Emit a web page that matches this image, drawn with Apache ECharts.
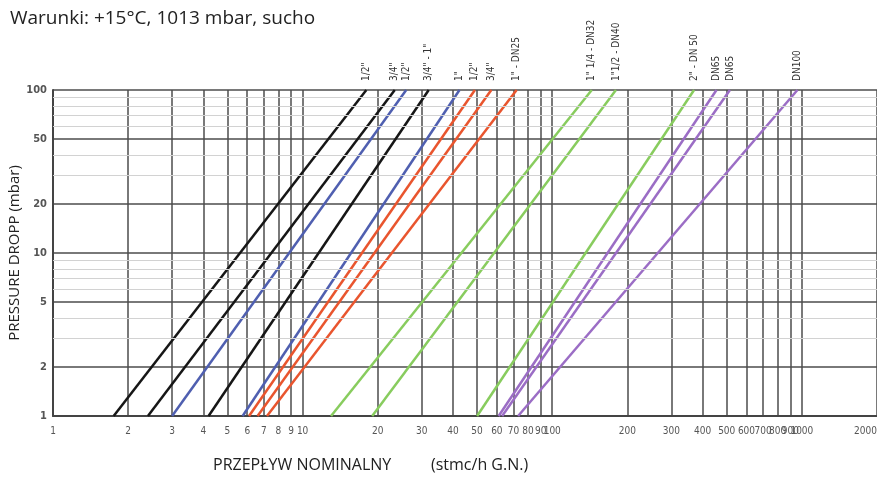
<!DOCTYPE html>
<html>
<head>
<meta charset="utf-8">
<script src="https://cdn.jsdelivr.net/npm/echarts@6/dist/echarts.min.js"></script>
<style>
html,body{margin:0;padding:0;background:#fff;}
#chart{width:877px;height:479px;}
</style>
</head>
<body>
<div id="chart"></div>
<script>
// ---- data ----
const lineNames = ['1/2"', '3/4"', '1/2"', '3/4" - 1"', '1"', '1/2"', '3/4"', '1" - DN25',
  '1" 1/4 - DN32', '1"1/2 - DN40', '2" - DN 50', 'DN65', 'DN65', 'DN100'];
const lineColors = ['#161616', '#161616', '#4f5fb0', '#161616', '#4f5fb0', '#e9552e', '#e9552e', '#e9552e',
  '#88cc5e', '#88cc5e', '#88cc5e', '#9b6dc5', '#9b6dc5', '#9b6dc5'];
// flow (stmc/h) at 1 mbar and at 100 mbar pressure drop
const flowAt1 = [1.75, 2.4, 3.0, 4.2, 5.75, 6.1, 6.6, 7.2, 13, 19, 50, 61, 63, 73];
const flowAt100 = [18, 23.4, 26, 32, 42.5, 49, 57, 72, 144, 180, 370, 455, 515, 960];
const pressureEnds = [1, 100];
const xTicks = [1, 2, 3, 4, 5, 6, 7, 8, 9, 10, 20, 30, 40, 50, 60, 70, 80, 90, 100,
  200, 300, 400, 500, 600, 700, 800, 900, 1000, 2000];
const yTicks = [1, 2, 5, 10, 20, 50, 100];
const yMinorLines = [3, 4, 6, 7, 8, 9, 30, 40, 60, 70, 80, 90];

const narrow = "'Liberation Sans Narrow', 'DejaVu Sans Condensed', Roboto, sans-serif";

const series = lineNames.map((name, i) => ({
  name: name,
  type: 'line',
  z: 3,
  data: [[flowAt1[i], pressureEnds[0]], [flowAt100[i], pressureEnds[1]]],
  symbol: 'none',
  lineStyle: { color: lineColors[i], width: 2.5 },
  silent: true,
  animation: false,
  markPoint: {
    symbol: 'circle',
    symbolSize: 0,
    silent: true,
    data: [{ coord: [flowAt100[i], pressureEnds[1]] }],
    label: {
      show: true,
      formatter: name,
      position: [0, -9],
      rotate: 90,
      align: 'left',
      verticalAlign: 'middle',
      color: '#333',
      fontSize: 10,
      fontFamily: narrow
    }
  }
}));

series.unshift({
  type: 'line',
  z: 1,
  data: [],
  silent: true,
  animation: false,
  markLine: {
    silent: true,
    symbol: 'none',
    animation: false,
    label: { show: false },
    lineStyle: { color: '#d2d2d2', width: 1, type: 'solid' },
    data: yMinorLines.map(v => ({ yAxis: v }))
  }
});

const bodyFont = "'Open Sans', sans-serif";
const chart = echarts.init(document.getElementById('chart'));
chart.setOption({
  animation: false,
  backgroundColor: '#fff',
  title: {
    text: 'Warunki: +15°C, 1013 mbar, sucho',
    left: 5, top: 4,
    textStyle: { fontSize: 19, fontWeight: 'normal', color: '#222', fontFamily: bodyFont }
  },
  graphic: [{
    type: 'text', left: 213, top: 457,
    style: { text: 'PRZEPŁYW NOMINALNY', fontSize: 16, fill: '#222', fontFamily: bodyFont }
  }, {
    type: 'text', left: 431, top: 457,
    style: { text: '(stmc/h G.N.)', fontSize: 16, fill: '#222', fontFamily: bodyFont }
  }],
  grid: { left: 53, right: 0, top: 90, bottom: 63, containLabel: false, outerBoundsMode: 'none' },
  xAxis: {
    type: 'log', logBase: 10, min: 1, max: 2000,
    axisLine: { show: true, lineStyle: { color: '#444', width: 2 } },
    axisTick: { show: false, customValues: xTicks },
    axisLabel: {
      customValues: xTicks, formatter: v => String(v), margin: 10, interval: 0, hideOverlap: false,
      showMinLabel: true, showMaxLabel: true,
      color: '#555', fontSize: 10, fontFamily: narrow, alignMaxLabel: 'right'
    },
    splitLine: { show: true, lineStyle: { color: '#4d4d4d', width: 1.5 } }
  },
  yAxis: {
    type: 'log', logBase: 10, min: 1, max: 100,
    name: 'PRESSURE DROPP (mbar)', nameLocation: 'middle', nameGap: 31, nameMoveOverlap: false,
    nameTextStyle: { fontSize: 15, color: '#222', fontFamily: bodyFont },
    axisLine: { show: true, lineStyle: { color: '#444', width: 2 } },
    axisTick: { show: false, customValues: yTicks },
    axisLabel: {
      customValues: yTicks, formatter: v => String(v), margin: 6,
      color: '#555', fontSize: 11, fontFamily: narrow, fontWeight: 'bold'
    },
    splitLine: { show: true, lineStyle: { color: '#4d4d4d', width: 1.5 } }
  },
  series: series
});
</script>
</body>
</html>
